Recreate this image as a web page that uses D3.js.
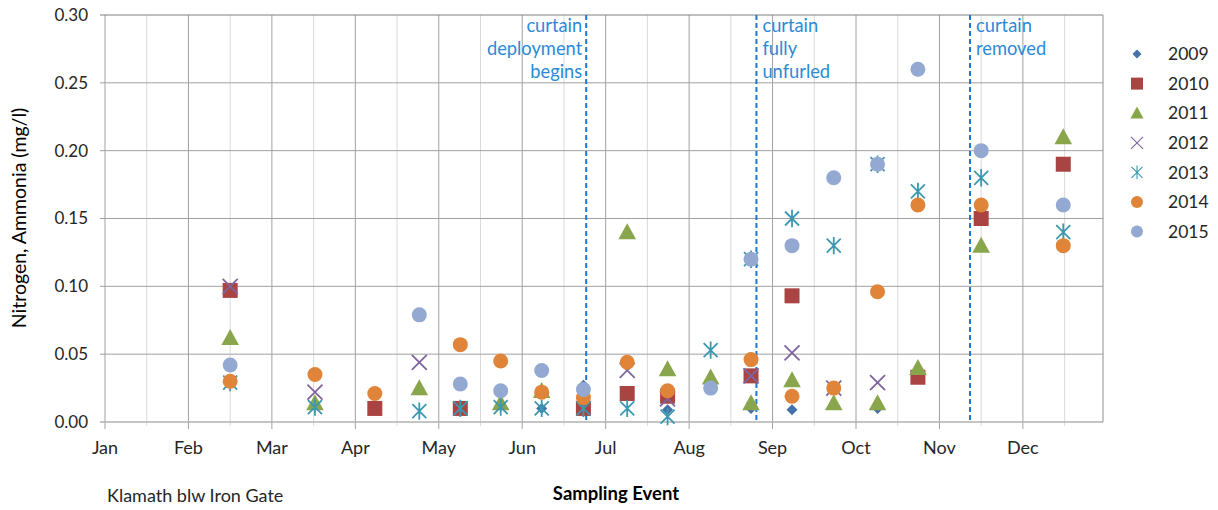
<!DOCTYPE html>
<html><head><meta charset="utf-8">
<script src="https://cdn.jsdelivr.net/npm/d3@7"></script>
<style>body{margin:0;background:#fff}svg{display:block;font-family:Lato,"Open Sans",sans-serif}</style>
</head><body><svg id="c" width="1218" height="510"></svg>
<script>
// Sampling events (month-day, plotted on a Jan–Dec month axis)
const events = ["02-15","03-17","04-08","04-24","05-09","05-24","06-08","06-23","07-09","07-24","08-09","08-24","09-08","09-23","10-09","10-24","11-16","12-16"];
const monthLabels = ["Jan","Feb","Mar","Apr","May","Jun","Jul","Aug","Sep","Oct","Nov","Dec"];
const years = ["2009","2010","2011","2012","2013","2014","2015"];
const v2009 = [null,null,null,null,null,null,0.010,0.027,null,0.009,null,0.010,0.009,null,0.010,null,null,null];
const v2010 = [0.097,null,0.010,null,0.010,null,null,0.010,0.021,0.019,null,0.034,0.093,null,null,0.033,0.150,0.190];
const v2011 = [0.062,0.014,null,0.025,null,0.014,0.023,null,0.140,0.039,0.033,0.014,0.031,0.014,0.014,0.040,0.130,0.210];
const v2012 = [0.100,0.022,null,0.044,null,null,null,null,0.038,0.017,null,0.034,0.051,0.025,0.029,null,null,null];
const v2013 = [0.029,0.011,null,0.008,0.010,0.011,0.010,0.010,0.010,0.004,0.053,0.120,0.150,0.130,0.190,0.170,0.180,0.140];
const v2014 = [0.030,0.035,0.021,null,0.057,0.045,0.022,0.018,0.044,0.023,null,0.046,0.019,0.025,0.096,0.160,0.160,0.130];
const v2015 = [0.042,null,null,0.079,0.028,0.023,0.038,0.024,null,null,0.025,0.120,0.130,0.180,0.190,0.260,0.200,0.160];
const yTicks = [0,0.05,0.10,0.15,0.20,0.25,0.30];
const curtainDates = ["06-24","08-26","11-12"];
const curtainText = [["curtain","deployment","begins"],["curtain","fully","unfurled"],["curtain","removed"]];

const seriesVals = [v2009,v2010,v2011,v2012,v2013,v2014,v2015];
const colors = ["#4472A8","#A94442","#8AA64C","#7F64A0","#3C98B0","#E0843A","#93A9D2"];
const shapes = ["diamond","square","triangle","x","star","circle","circle"];

function monthPos(md){
  const [m,d] = md.split("-").map(Number);
  const dim = new Date(2015, m, 0).getDate();
  return (m-1) + (d-1)/dim;
}

const svg = d3.select("#c");
const x = d3.scaleLinear().domain([0,11.96]).range([105,1103]);
const y = d3.scaleLinear().domain([0,0.30]).range([422,15]);

const g = svg.append("g");
g.selectAll("line.minor").data(d3.range(0.5,12,1)).join("line")
  .attr("x1",d=>x(d)).attr("x2",d=>x(d)).attr("y1",y(0.30)).attr("y2",y(0)+4)
  .attr("stroke","#DADADA").attr("stroke-width",1);
g.selectAll("line.major").data(d3.range(0,12)).join("line")
  .attr("x1",d=>x(d)).attr("x2",d=>x(d)).attr("y1",y(0.30)).attr("y2",y(0)+7)
  .attr("stroke","#A0A0A0").attr("stroke-width",1);
g.selectAll("line.h").data(yTicks).join("line")
  .attr("x1",x(0)-5).attr("x2",x(11.96)).attr("y1",d=>y(d)).attr("y2",d=>y(d))
  .attr("stroke",d=>d===0?"#B0B0B0":(d===0.30?"#808080":"#A0A0A0")).attr("stroke-width",d=>d===0?1.5:1);
g.append("line").attr("x1",x(11.96)).attr("x2",x(11.96)).attr("y1",y(0.30)).attr("y2",y(0))
  .attr("stroke","#909090");

svg.append("g").selectAll("text").data(yTicks).join("text")
  .attr("x",88).attr("y",d=>y(d)).attr("dy","0.35em").attr("text-anchor","end")
  .attr("font-size",17).attr("fill","#262626").text(d=>d3.format(".2f")(d));
svg.append("g").selectAll("text").data(monthLabels).join("text")
  .attr("x",(d,i)=>x(i)).attr("y",448).attr("dy","0.35em").attr("text-anchor","middle")
  .attr("font-size",18).attr("fill","#262626").text(d=>d);

svg.append("text").attr("transform","translate(19,218) rotate(-90)").attr("text-anchor","middle")
  .attr("dy","0.35em").attr("font-size",19.5).attr("fill","#000").text("Nitrogen, Ammonia (mg/l)");
svg.append("text").attr("x",616).attr("y",494).attr("dy","0.35em").attr("text-anchor","middle")
  .attr("font-size",18.5).attr("font-weight","bold").attr("fill","#000").text("Sampling Event");
svg.append("text").attr("x",107).attr("y",496).attr("dy","0.35em")
  .attr("font-size",18).attr("fill","#262626").text("Klamath blw Iron Gate");

const cg = svg.append("g");
curtainDates.forEach((cd,i)=>{
  const cx = x(monthPos(cd));
  cg.append("line").attr("x1",cx).attr("x2",cx).attr("y1",y(0.30)).attr("y2",y(0))
    .attr("stroke","#1A78CF").attr("stroke-width",2).attr("stroke-dasharray","5,3");
  const right = i===0;
  curtainText[i].forEach((t,j)=>{
    cg.append("text").attr("x",right?cx-4:cx+6).attr("y",26+j*23).attr("dy","0.35em")
      .attr("text-anchor",right?"end":"start").attr("font-size",18.3).attr("fill","#2A8AD8").text(t);
  });
});

function drawMarker(sel, shape, color, s){
  if(shape==="circle") sel.append("circle").attr("r",s/2).attr("fill",color);
  else if(shape==="square") sel.append("rect").attr("x",-s/2).attr("y",-s/2).attr("width",s).attr("height",s).attr("fill",color);
  else if(shape==="diamond") sel.append("path").attr("d",`M0,${-s/2}L${s/2},0L0,${s/2}L${-s/2},0Z`).attr("fill",color);
  else if(shape==="triangle") sel.append("path").attr("d",`M0,${-s*0.55}L${s*0.55},${s*0.45}L${-s*0.55},${s*0.45}Z`).attr("fill",color);
  else if(shape==="x") sel.append("path").attr("d",`M${-s/2},${-s/2}L${s/2},${s/2}M${s/2},${-s/2}L${-s/2},${s/2}`).attr("stroke",color).attr("stroke-width",1.8).attr("fill","none");
  else if(shape==="star") sel.append("path").attr("d",`M${-s/2},${-s/2}L${s/2},${s/2}M${s/2},${-s/2}L${-s/2},${s/2}M0,${-s*0.62}L0,${s*0.62}`).attr("stroke",color).attr("stroke-width",1.8).attr("fill","none");
}
const sizes = [11,15,16,15,14,15,15];

const pg = svg.append("g");
seriesVals.forEach((vals,si)=>{
  const pts = events.map((e,i)=>({m:monthPos(e),v:vals[i]})).filter(d=>d.v!==null);
  pts.forEach(p=>{
    const mk = pg.append("g").attr("transform",`translate(${x(p.m)},${y(p.v)})`);
    drawMarker(mk, shapes[si], colors[si], sizes[si]);
  });
});

const lg = svg.append("g");
years.forEach((yr,i)=>{
  const ly = 54 + i*29.6;
  const mk = lg.append("g").attr("transform",`translate(1137,${ly})`);
  drawMarker(mk, shapes[i], colors[i], [9,12,12,12,11,12,12][i]);
  if(shapes[i]==="x"||shapes[i]==="star") mk.selectAll("path").attr("stroke-width",1.1);
  lg.append("text").attr("x",1168).attr("y",ly).attr("dy","0.35em").attr("font-size",17.5).attr("fill","#262626").text(yr);
});
</script></body></html>
